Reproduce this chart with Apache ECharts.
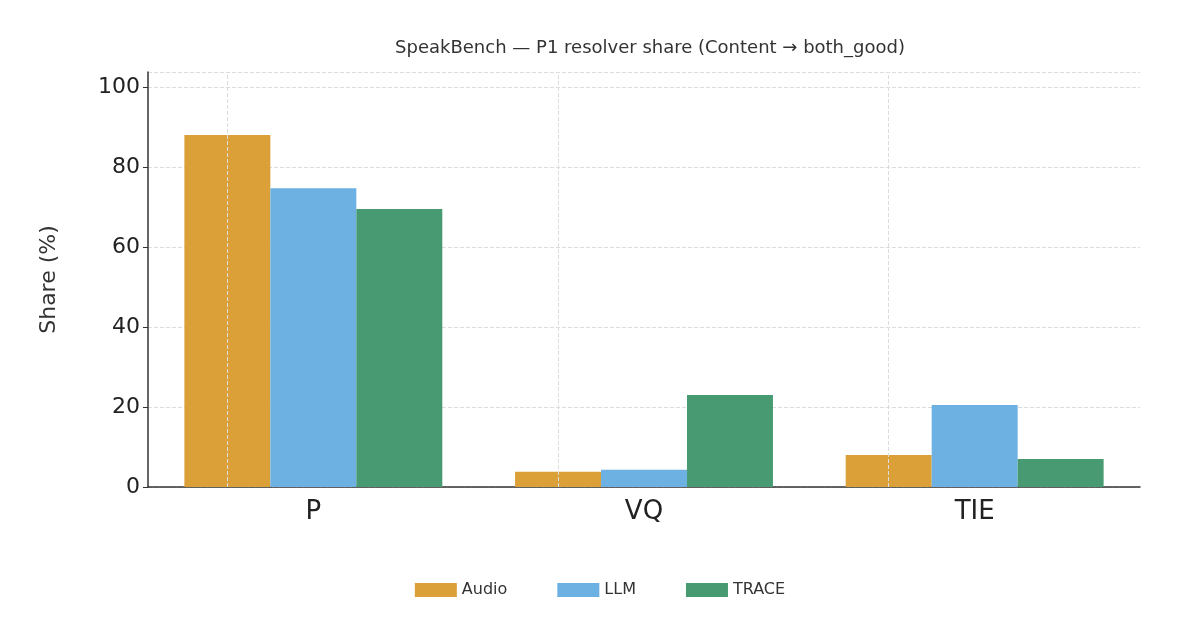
<!DOCTYPE html>
<html><head><meta charset="utf-8">
<script src="https://cdn.jsdelivr.net/npm/echarts@6/dist/echarts.min.js"></script>
<style>html,body{margin:0;padding:0;background:#fff}#c{width:1200px;height:625px}</style>
</head><body><div id="c"></div>
<script>
const categories = ['P','VQ','TIE'];
const audio = [88, 3.8, 8];
const llm = [74.7, 4.3, 20.5];
const trace = [69.5, 23, 7];
const yTicks = [0,20,40,60,80,100];
const chart = echarts.init(document.getElementById('c'));
const font = 'DejaVu Sans';
chart.setOption({
  animation:false,
  title:{text:'SpeakBench — P1 resolver share (Content → both_good)',left:645,top:34,textAlign:'center',
    textStyle:{fontFamily:font,fontSize:18,fontWeight:'normal',color:'#333'}},
  legend:{bottom:22,left:'center',itemWidth:42,itemHeight:14,itemGap:50,
    textStyle:{fontFamily:font,fontSize:16,color:'#333'},icon:'rect'},
  grid:{left:148,right:60,top:72,bottom:138},
  xAxis:{type:'category',data:categories,
    axisLine:{lineStyle:{color:'#333',width:1.5}},axisTick:{show:false},
    axisLabel:{fontFamily:font,fontSize:26,color:'#222',margin:12},splitLine:{show:false}},
  yAxis:{type:'value',min:0,max:103.75,interval:20,
    name:'Share (%)',nameLocation:'middle',nameGap:88,nameTextStyle:{fontFamily:font,fontSize:22,color:'#333'},
    axisLine:{show:true,lineStyle:{color:'#333',width:1.5}},axisTick:{show:true,length:5,lineStyle:{color:'#333'}},
    axisLabel:{fontFamily:font,fontSize:22,color:'#222',showMaxLabel:false,
      formatter:v=>yTicks.includes(v)?String(v):''},
    splitLine:{lineStyle:{type:'dashed',color:'#ddd'}}},
  series:[
    {name:'Audio',type:'bar',data:audio,itemStyle:{color:'#DBA038'},barGap:'0%',barCategoryGap:'22%',
     markLine:{symbol:'none',silent:true,label:{show:false},lineStyle:{type:'dashed',color:'#ddd',width:1},
       data:categories.map(c=>({xAxis:c}))}},
    {name:'LLM',type:'bar',data:llm,itemStyle:{color:'#6DB1E3'}},
    {name:'TRACE',type:'bar',data:trace,itemStyle:{color:'#479A72'}}
  ]
});
</script></body></html>
